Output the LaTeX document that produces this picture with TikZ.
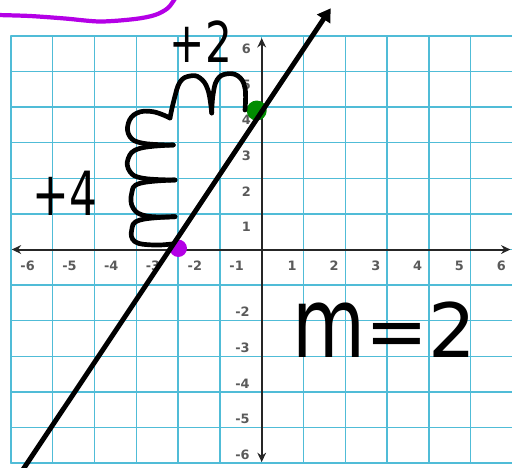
\documentclass[tikz,border=0pt]{standalone}
\usepackage{graphicx}
\usepackage{fontspec}
\setmainfont{DejaVu Sans}
\usepackage{tikz}
\usetikzlibrary{positioning,arrows.meta}
\definecolor{gridblue}{RGB}{80,188,215}
\definecolor{markpurple}{RGB}{180,0,230}
\definecolor{markgreen}{RGB}{0,140,0}
\definecolor{ticklbl}{RGB}{90,90,90}

\begin{document}
\begin{tikzpicture}[x=0.03cm,y=-0.03cm,line cap=round,line join=round,
  >={Stealth[length=8pt,width=7.5pt]}]
\tikzstyle{gridline}=[draw=gridblue,line width=1.1pt]
\tikzstyle{axisline}=[draw=black!85,line width=1.7pt]
\tikzstyle{tick}=[text=ticklbl,inner sep=0pt,
  font=\fontsize{11}{13}\selectfont\bfseries]
\tikzstyle{ink}=[draw=black,line width=4pt]
\tikzstyle{hand}=[inner sep=0pt,text=black]
\tikzstyle{dot}=[circle,inner sep=0pt]

\useasboundingbox (0,0) rectangle (512,467);

% purple mark at the top
\draw[draw=markpurple,line width=3.6pt] plot[smooth] coordinates
  {(-3,15) (30,16) (65,18.5) (100,21.5) (135,19) (155,15) (168,8) (176,-3)};

\begin{scope}[shift={(7.851cm,-7.485cm)},x=1.254cm,y=1.068cm]
\foreach \i in {-6,...,6} {
  \draw[gridline] (\i,-6) -- (\i,6);
  \draw[gridline] (-6,\i) -- (6,\i);
}
\coordinate (xneg) at (-5.98,0);
\coordinate (xpos) at (5.95,0);
\coordinate (yneg) at (0,-5.97);
\coordinate (ypos) at (0,5.94);
\draw[axisline,<->] (xneg) -- (xpos);
\draw[axisline,<->] (yneg) -- (ypos);

\foreach \i in {1,...,6} {
  \node[tick] (xp\i) at (\i-0.27,-0.455) {\i};
  \node[tick] (xn\i) at (-\i+0.4,-0.455) {-\i};
  \node[tick] (yp\i) at (-0.37,\i-0.37) {\i};
}
\foreach \i in {2,...,6}
  \node[tick] (yn\i) at (-0.46,-\i+0.24) {-\i};
\end{scope}

% points on the line
\node[dot,fill=markgreen,minimum size=0.6cm] (yint) at (256.7,110.5) {};
\node[dot,fill=markpurple,minimum size=0.52cm] (xint) at (178.3,248.3) {};

\coordinate (lbot) at (22,471);
\coordinate (ltop) at (330.7,8.3);
\draw[draw=black,line width=4.2pt,-{Triangle[length=11pt,width=13pt]}]
  (lbot) -- (ltop);

% hand drawn steps
\draw[ink] plot[smooth,tension=0.7] coordinates
  {(245,110) (245,88) (238,76) (226,74) (217,80) (213,95) (211.7,113)};
\draw[ink] plot[smooth,tension=0.7] coordinates
  {(211.7,113) (208,90) (200,78) (190,76) (180,82) (174,100) (170,118)};
\draw[ink] plot[smooth,tension=0.7] coordinates
  {(170,118) (153,111.7) (137,113) (128.3,123.3) (130,136.7) (143.3,143.3) (173.3,145)};
\draw[ink] plot[smooth,tension=0.7] coordinates
  {(173.3,145) (140,148.3) (128.3,158.3) (130,171.7) (143.3,178.3) (175,180)};
\draw[ink] plot[smooth,tension=0.7] coordinates
  {(175,180) (140,183.3) (131.7,193.3) (133.3,208.3) (146.7,216) (175,216.7)};
\draw[ink] plot[smooth,tension=0.7] coordinates
  {(175,216.7) (140,220) (131.7,230) (135,241.7) (153.3,245) (171.7,244)};

\node[hand,font=\fontsize{48}{48}\selectfont] (plustwo) at (201,42)
  {\scalebox{0.75}[1]{+2}};
\node[hand,font=\fontsize{52}{52}\selectfont] (plusfour) at (65,193)
  {\scalebox{0.72}[1]{+4}};
\node[hand,font=\fontsize{64}{64}\selectfont] (slope) at (384,330)
  {\scalebox{1}[1.3]{m}=2};
\end{tikzpicture}
\end{document}
